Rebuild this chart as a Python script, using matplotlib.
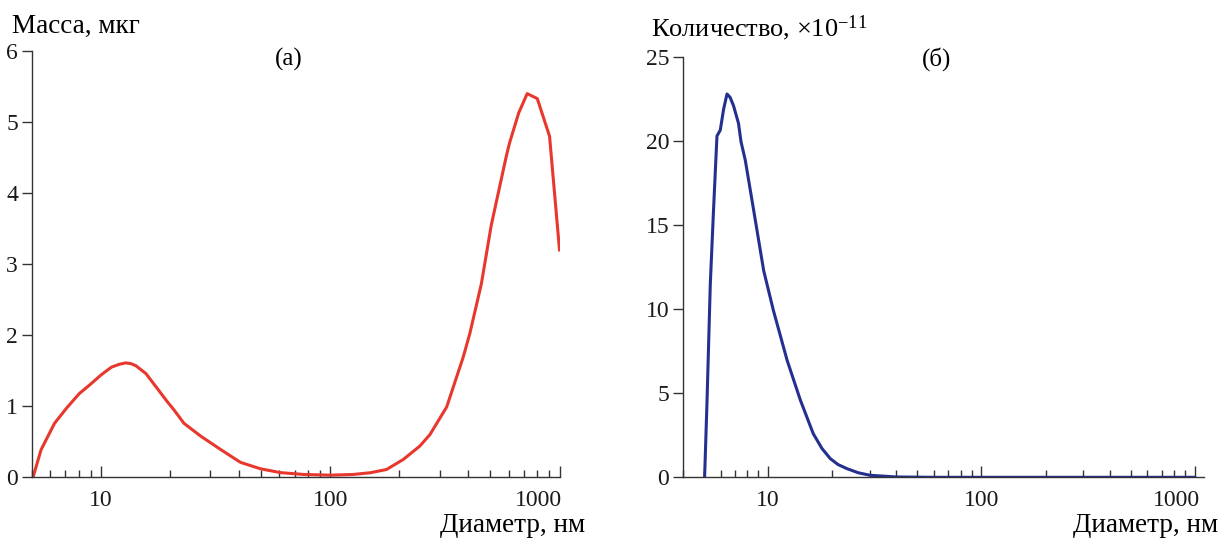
import numpy as np
import matplotlib
matplotlib.use("Agg")
from matplotlib import pyplot as plt
from matplotlib.ticker import LogLocator, NullFormatter
from matplotlib.transforms import ScaledTranslation

plt.rcParams.update({
    "font.family": ["Liberation Serif", "DejaVu Serif"],
    "mathtext.fontset": "custom",
    "mathtext.rm": "Liberation Serif",
    "mathtext.it": "Liberation Serif:italic",
    "font.size": 17,
    "axes.linewidth": 1.0,
    "axes.edgecolor": "#333333",
    "xtick.color": "#333333",
    "ytick.color": "#333333",
    "xtick.labelcolor": "#1a1a1a",
    "ytick.labelcolor": "#1a1a1a",
})

# (а) масса
mass_d = [5.05, 5.48, 6.27, 7.1, 8.05, 9.0, 10.0, 11.1, 12.0, 12.8, 13.5, 14.2, 15.7,
          17.6, 19.5, 20.8, 23.0, 27.2, 33.3, 40.6, 49.6, 60.6, 76.6, 100, 126, 150,
          176, 208, 246, 272, 322, 380, 406, 456, 504, 587, 606, 664, 723, 800, 905, 1000]
mass_v = [0.0, 0.39, 0.76, 0.98, 1.18, 1.31, 1.44, 1.55, 1.59, 1.61, 1.60, 1.57, 1.46,
          1.25, 1.06, 0.95, 0.76, 0.58, 0.39, 0.21, 0.12, 0.066, 0.04, 0.03, 0.04, 0.065,
          0.11, 0.25, 0.44, 0.60, 0.99, 1.69, 2.02, 2.72, 3.55, 4.53, 4.71, 5.13, 5.40, 5.33, 4.80, 3.20]

# (б) количество
num_d = [5.05, 5.18, 5.37, 5.56, 5.77, 5.98, 6.2, 6.43, 6.65, 6.90, 7.28, 7.48, 7.83, 8.57,
         9.55, 10.6, 12.3, 14.2, 16.3, 17.9, 19.6, 21.3, 23.4, 26.5, 30.1, 40, 60, 100, 200, 500, 1000]
num_v = [0.0, 4.4, 11.5, 15.9, 20.3, 20.65, 21.9, 22.8, 22.6, 22.1, 21.05, 19.96, 18.87, 15.9,
         12.3, 9.94, 6.96, 4.58, 2.60, 1.72, 1.11, 0.76, 0.52, 0.27, 0.12, 0.02, 0.0, 0.0, 0.0, 0.0, 0.0]

tick_pos = [10, 100, 1000]
tick_txt = ["10", "100", "1000"]

fig = plt.figure(figsize=(12.22, 5.40), dpi=100)
ax1 = fig.add_axes([32 / 1222, 1 - 477.3 / 540, (559.5 - 32) / 1222, (477.3 - 51) / 540])
ax2 = fig.add_axes([683 / 1222, 1 - 477.3 / 540, (1203.6 - 683) / 1222, (477.3 - 57) / 540])

ax1.plot(mass_d, mass_v, color="#e8382e", lw=2.2)
ax2.plot(num_d, num_v, color="#24308f", lw=2.2)

for ax, shift in ((ax1, 3), (ax2, 5)):
    ax.set_xscale("log")
    ax.spines["top"].set_visible(False)
    ax.spines["right"].set_visible(False)
    ax.set_xticks(tick_pos, labels=tick_txt)
    ax.xaxis.set_minor_locator(LogLocator(base=10, subs=np.arange(2, 10)))
    ax.xaxis.set_minor_formatter(NullFormatter())
    ax.tick_params(axis="x", which="major", direction="in", length=8, width=1.0, pad=9)
    ax.tick_params(axis="x", which="minor", direction="in", length=5, width=1.0)
    ax.tick_params(axis="y", which="major", direction="out", length=7, width=1.0, pad=3)
    last = ax.get_xticklabels()[-1]
    last.set_horizontalalignment("right")
    last.set_transform(last.get_transform() + ScaledTranslation(shift / 100, 0, fig.dpi_scale_trans))

ax1.set_xlim(5, 1000)
ax1.set_ylim(0, 6)
ax2.set_xlim(4, 1100)
ax2.set_ylim(0, 25)
ax1.set_yticks(range(0, 7))
ax2.set_yticks(range(0, 26, 5))

fig.text(12 / 1222, 1 - 33 / 540, "Масса, мкг", ha="left", va="baseline", fontsize=19.5)
fig.text(289 / 1222, 1 - 59 / 540, "(а)", ha="center", va="center", fontsize=18)
fig.text(585 / 1222, 1 - 532 / 540, "Диаметр, нм", ha="right", va="baseline", fontsize=19.5)

fig.text(651 / 1222, 1 - 36 / 540, r"Количество, $\times$10$^{-11}$", ha="left", va="baseline", fontsize=19)
fig.text(937 / 1222, 1 - 59 / 540, "(б)", ha="center", va="center", fontsize=18)
fig.text(1218 / 1222, 1 - 532 / 540, "Диаметр, нм", ha="right", va="baseline", fontsize=19.5)

fig.savefig("out.png", dpi=100)
